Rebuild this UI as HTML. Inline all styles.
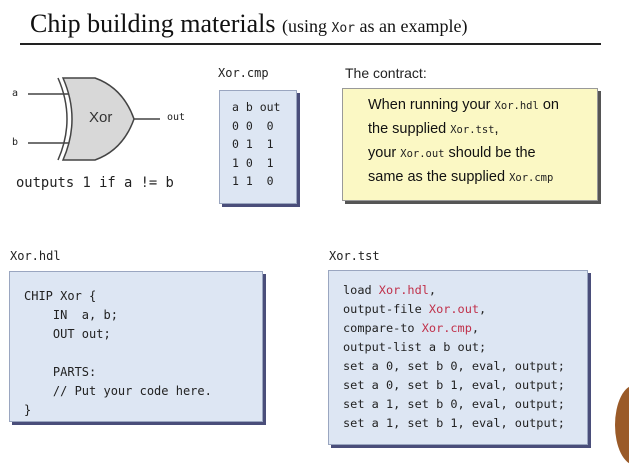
<!DOCTYPE html>
<html><head><meta charset="utf-8"><style>
body{margin:0;width:629px;height:471px;background:#fff;position:relative;overflow:hidden;font-family:"Liberation Sans",sans-serif}
.a{position:absolute;white-space:pre}
.m{font-family:"DejaVu Sans Mono","Liberation Mono",monospace;color:#222}
.box{position:absolute;background:#dde6f3;border:1px solid #9aa6c0;box-shadow:3px 3px 0 #4a4e7a}
.r{color:#c0304a}
</style></head><body>
<div class="a" style="left:30px;top:9px;font-family:'Liberation Serif',serif;font-size:26px;color:#111">Chip building materials <span style="font-size:18px">(using <span class="m" style="font-size:13px">Xor</span> as an example)</span></div>
<div class="a" style="left:20px;top:43px;width:581px;height:2px;background:#222"></div>

<svg class="a" style="left:0;top:0" width="200" height="200">
<line x1="28" y1="94" x2="70" y2="94" stroke="#444" stroke-width="1.5"/>
<line x1="28" y1="143" x2="70" y2="143" stroke="#444" stroke-width="1.5"/>
<path d="M58 78 Q76 119 58 160" fill="none" stroke="#444" stroke-width="1.5"/>
<path d="M63 78 L95 78 Q123 88 134 119 Q123 150 95 160 L63 160 Q81 119 63 78Z" fill="#d8d8d8" stroke="#444" stroke-width="1.5"/>
<line x1="134" y1="119" x2="160" y2="119" stroke="#444" stroke-width="1.5"/>
</svg>
<div class="a m" style="left:12px;top:88px;font-size:10px">a</div>
<div class="a m" style="left:12px;top:137px;font-size:10px">b</div>
<div class="a" style="left:89px;top:109px;font-size:15px;color:#333">Xor</div>
<div class="a m" style="left:167px;top:112px;font-size:10px">out</div>
<div class="a m" style="left:16px;top:175px;font-size:13.8px">outputs 1 if a != b</div>

<div class="a m" style="left:218px;top:66px;font-size:12px">Xor.cmp</div>
<div class="box" style="left:219px;top:90px;width:76px;height:112px"></div>
<div class="a m" style="left:232px;top:98px;font-size:11.5px;line-height:18.5px">a b out
0 0  0
0 1  1
1 0  1
1 1  0</div>

<div class="a" style="left:345px;top:65px;font-size:14px;color:#222">The contract:</div>
<div class="a" style="left:342px;top:88px;width:254px;height:111px;background:#fbf8c4;border:1px solid #999;box-shadow:3px 3px 0 #555"></div>
<div class="a" style="left:368px;top:94px;font-size:14.5px;line-height:23px;color:#111">When running your <span class="m" style="font-size:10.5px">Xor.hdl</span> on
the supplied <span class="m" style="font-size:10.5px">Xor.tst</span>,
your <span class="m" style="font-size:10.5px">Xor.out</span> should be the
same as the supplied <span class="m" style="font-size:10.5px">Xor.cmp</span></div>

<div class="a m" style="left:10px;top:249px;font-size:12px">Xor.hdl</div>
<div class="box" style="left:9px;top:271px;width:252px;height:149px"></div>
<div class="a m" style="left:24px;top:287px;font-size:12px;line-height:19px">CHIP Xor {
    IN  a, b;
    OUT out;

    PARTS:
    // Put your code here.
}</div>

<div class="a m" style="left:329px;top:249px;font-size:12px">Xor.tst</div>
<div class="box" style="left:328px;top:270px;width:258px;height:173px"></div>
<div class="a m" style="left:343px;top:281px;font-size:11.9px;line-height:19px">load <span class="r">Xor.hdl</span>,
output-file <span class="r">Xor.out</span>,
compare-to <span class="r">Xor.cmp</span>,
output-list a b out;
set a 0, set b 0, eval, output;
set a 0, set b 1, eval, output;
set a 1, set b 0, eval, output;
set a 1, set b 1, eval, output;</div>

<div class="a" style="left:615px;top:385px;width:40px;height:80px;border-radius:50%;background:#9a5a28"></div>
</body></html>
